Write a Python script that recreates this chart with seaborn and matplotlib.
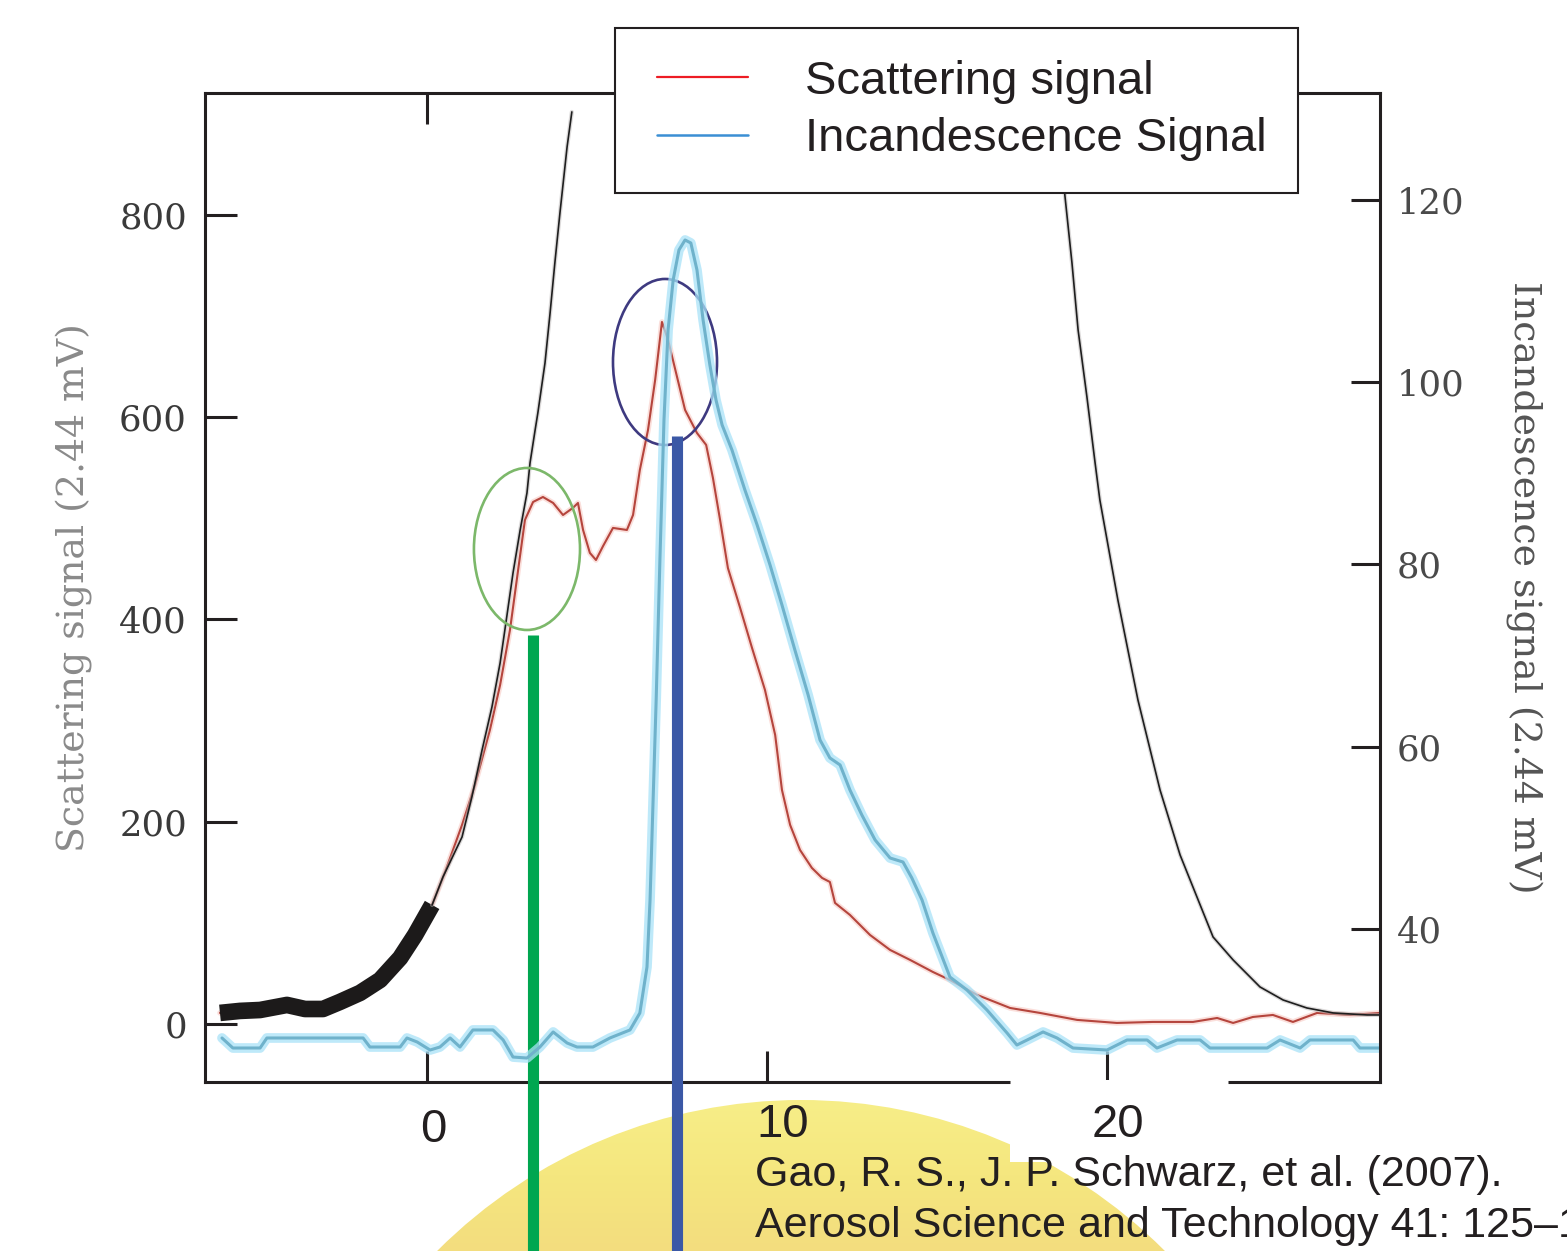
import numpy as np
import matplotlib
matplotlib.use("Agg")
import matplotlib.pyplot as plt
import seaborn as sns
from matplotlib.patches import Ellipse, Circle, Rectangle
from matplotlib.colors import LinearSegmentedColormap
from matplotlib.lines import Line2D

# ---------------------------------------------------------------- data
# time (µs) and scattering signal (left axis, 2.44 mV units)
scat_t = [-6.09, -5.50, -4.91, -4.12, -3.59, -3.06, -2.56, -1.97, -1.38, -0.79,
          -0.35, 0.15, 0.53, 1.03, 1.41, 1.85, 2.15, 2.44, 2.68, 2.88,
          3.12, 3.41, 3.71, 4.00, 4.29, 4.44, 4.59, 4.79, 4.97, 5.18,
          5.47, 5.88, 6.06, 6.26, 6.50, 6.71, 6.91, 7.09, 7.29, 7.59,
          7.94, 8.21, 8.41, 8.62, 8.85, 9.21, 9.56, 9.94, 10.24, 10.44,
          10.68, 10.97, 11.32, 11.62, 11.85, 12.00, 12.44, 13.03, 13.62, 14.21,
          14.88, 15.38, 16.18, 17.15, 18.03, 19.12, 20.29, 21.35, 22.53, 23.24,
          23.71, 24.29, 24.88, 25.47, 26.18, 27.15, 28.03]
scat_v = [10.9, 12.9, 13.8, 18.8, 14.8, 14.8, 21.8, 30.7, 43.5, 65.3,
          88.0, 117.7, 150.3, 196.8, 236.3, 290.7, 335.2, 389.6, 449.0, 498.4,
          516.2, 521.1, 515.2, 503.3, 510.3, 515.2, 488.5, 465.8, 458.8, 472.7,
          490.5, 488.5, 503.3, 547.8, 587.4, 636.8, 694.2, 676.4, 648.7, 607.2,
          584.4, 572.6, 539.9, 498.4, 450.9, 411.4, 371.8, 330.3, 285.8, 231.4,
          196.8, 172.1, 154.3, 144.4, 140.4, 119.7, 107.8, 88.0, 73.2, 63.3,
          51.4, 43.5, 28.7, 15.8, 10.9, 4.0, 1.0, 2.0, 2.0, 5.9,
          1.0, 6.9, 8.9, 2.0, 10.9, 8.9, 10.9]
baseline_end = 0.15   # end of the baseline fit window

# Gaussian fit to the leading edge (left axis)
rise_fit_t = [0.15, 0.47, 1.03, 1.32, 1.62, 1.91, 2.15, 2.29, 2.53, 2.74,
              2.94, 3.03, 3.18, 3.26, 3.47, 3.62, 3.76, 3.91, 4.12, 4.26]
rise_fit_v = [117.7, 145.4, 184.9, 224.5, 271.0, 313.5, 357.0, 389.6, 446.0, 488.5,
              525.1, 554.8, 587.4, 604.2, 653.6, 703.1, 752.5, 802.0, 867.3, 901.9]
# trailing side of the fitted Gaussian (left axis)
fall_fit_t = [18.62, 18.76, 18.97, 19.15, 19.41, 19.65, 19.79, 20.32, 20.91, 21.56,
              22.15, 22.74, 23.12, 23.71, 24.50, 25.18, 25.88, 26.65, 27.65, 28.03]
fall_fit_v = [913.7, 819.8, 752.5, 686.3, 620.0, 554.8, 518.2, 419.3, 320.4, 231.4,
              167.1, 117.7, 86.0, 63.3, 36.6, 23.7, 15.8, 10.9, 8.9, 8.9]

# incandescence signal (right axis, 2.44 mV units)
inc_t = [-6.03, -5.71, -4.91, -4.71, -1.88, -1.68, -0.79, -0.59, -0.29, 0.09,
         0.38, 0.68, 0.97, 1.35, 1.94, 2.24, 2.53, 2.94, 3.32, 3.71,
         4.12, 4.41, 4.88, 5.38, 5.97, 6.26, 6.47, 6.56, 6.65, 6.74,
         6.85, 6.97, 7.09, 7.24, 7.41, 7.59, 7.76, 7.94, 8.12, 8.32,
         8.50, 8.68, 8.97, 9.35, 9.71, 10.09, 10.44, 10.82, 11.21, 11.56,
         11.85, 12.15, 12.44, 12.79, 13.18, 13.62, 14.00, 14.26, 14.56, 14.88,
         15.38, 15.88, 16.47, 17.06, 17.35, 17.65, 18.12, 18.53, 19.00, 20.00,
         20.59, 21.18, 21.47, 22.06, 22.74, 23.03, 24.71, 25.09, 25.68, 25.97,
         27.24, 27.44, 28.03]
inc_v = [28.04, 26.94, 26.94, 28.04, 28.04, 27.05, 27.05, 28.04, 27.60, 26.72,
         27.05, 28.04, 27.05, 28.92, 28.92, 27.82, 25.95, 25.84, 27.05, 28.70,
         27.49, 27.05, 27.05, 28.04, 28.92, 30.78, 35.83, 43.18, 54.16, 65.13,
         80.49, 95.86, 105.73, 111.22, 114.51, 115.61, 115.28, 112.32, 106.83, 101.89,
         98.05, 95.31, 92.56, 88.18, 84.33, 79.94, 75.56, 70.62, 65.68, 60.74,
         58.77, 58.00, 55.25, 52.51, 49.77, 47.79, 47.35, 45.60, 43.18, 39.56,
         34.73, 33.31, 31.11, 28.59, 27.27, 27.82, 28.70, 28.04, 26.94, 26.72,
         27.82, 27.82, 26.94, 27.82, 27.82, 26.94, 26.94, 27.82, 26.94, 27.82,
         27.82, 26.94, 26.94]

# marked instants: scattering onset (green) and incandescence onset (blue)
scat_mark_t, scat_mark_v = 3.12, 384.7
inc_mark_t, inc_mark_v = 7.35, 581.5

left_ticks = [0, 200, 400, 600, 800]
right_ticks = [40, 60, 80, 100, 120]
x_ticks = [0, 10, 20]
x_ticklabels = ["0", "10", "20"]

# ---------------------------------------------------------------- style
sns.set_theme(style="white")
plt.rcParams["font.family"] = ["Liberation Sans", "DejaVu Sans"]
INK = "#231f20"
SERIF = "DejaVu Serif"

W, H = 1567, 1251
fig = plt.figure(figsize=(W / 100, H / 100), dpi=100)
fig.patch.set_facecolor("white")

# backdrop layer in pixel units
bg = fig.add_axes([0, 0, 1, 1], zorder=0)
bg.set_axis_off()
cx, cy, r = 801, 1614, 514
grad = np.linspace(0, 1, 256).reshape(-1, 1)
sun = LinearSegmentedColormap.from_list("sun", ["#f7ee88", "#f5e77f", "#f3dd7e"])
im = bg.imshow(grad, extent=(cx - r, cx + r, H, cy - r), cmap=sun,
               aspect="auto", interpolation="bilinear", zorder=0)
disc = Circle((cx, cy), r, transform=bg.transData, facecolor="none", edgecolor="none")
bg.add_patch(disc)
im.set_clip_path(disc)
# white panel behind the "20" label
bg.add_patch(Rectangle((1010, 1075), 218, 87, facecolor="white",
                       edgecolor="none", zorder=1))
bg.set_xlim(0, W)
bg.set_ylim(H, 0)

# main axes
ax = fig.add_axes([205 / W, 1 - 1082 / H, 1175 / W, 989 / H], zorder=1)
ax.patch.set_alpha(0)
ax2 = ax.twinx()
ax2.set_zorder(2)

ax.set_xlim(-6.53, 28.03)
ax.set_ylim(-57.4, 920.6)
ax2.set_ylim(23.21, 131.74)

# scattering trace with a soft halo
sns.lineplot(x=scat_t, y=scat_v, ax=ax, color="#f6b8b0", lw=4.0, alpha=0.45,
             sort=False, estimator=None)
sns.lineplot(x=scat_t, y=scat_v, ax=ax, color="#b5453d", lw=1.5,
             sort=False, estimator=None)

# baseline fit window (thick black)
st = np.array(scat_t)
sv = np.array(scat_v)
base = st <= baseline_end
sns.lineplot(x=st[base], y=sv[base], ax=ax, color="#1c1a1a", lw=12,
             sort=False, estimator=None, solid_capstyle="butt")

# Gaussian fit sides
for ft, fv in ((rise_fit_t, rise_fit_v), (fall_fit_t, fall_fit_v)):
    sns.lineplot(x=ft, y=fv, ax=ax, color="#b9b5b5", lw=3.0, alpha=0.5,
                 sort=False, estimator=None)
    sns.lineplot(x=ft, y=fv, ax=ax, color="#1e1e1e", lw=1.2,
                 sort=False, estimator=None)

# incandescence trace with glow
sns.lineplot(x=inc_t, y=inc_v, ax=ax2, color="#a9e2f8", lw=7.0, alpha=0.75,
             sort=False, estimator=None)
sns.lineplot(x=inc_t, y=inc_v, ax=ax2, color="#6fb2cb", lw=2.2,
             sort=False, estimator=None)

# highlight ellipses
ax.add_patch(Ellipse((2.94, 469.7), 3.12, 160.2, fill=False,
                     edgecolor="#7cb86a", lw=1.9, zorder=3))
ax.add_patch(Ellipse((7.00, 654.6), 3.06, 164.2, fill=False,
                     edgecolor="#3e3a80", lw=1.9, zorder=3))

# onset markers running down to the bottom of the figure
y0, y1 = ax.get_ylim()
pos = ax.get_position()
units_per_fig = (y1 - y0) / pos.height
fig_bottom_val = y0 - pos.y0 * units_per_fig
ax.vlines(scat_mark_t, fig_bottom_val, scat_mark_v, color="#00a650", lw=8,
          clip_on=False, zorder=4)
ax.vlines(inc_mark_t, fig_bottom_val, inc_mark_v, color="#3b58a6", lw=8,
          clip_on=False, zorder=4)

# axes frame
for s in ("left", "top", "bottom"):
    ax.spines[s].set_color(INK)
    ax.spines[s].set_linewidth(2.2)
ax.spines["right"].set_visible(False)
for s in ("left", "top", "bottom"):
    ax2.spines[s].set_visible(False)
ax2.spines["right"].set_color(INK)
ax2.spines["right"].set_linewidth(2.2)

# break in the lower frame line
ax.plot([17.15, 23.56], [0, 0], transform=ax.get_xaxis_transform(), color="white",
        lw=3.6, solid_capstyle="butt", clip_on=False, zorder=3)

ax.set_xticks(x_ticks)
ax.tick_params(axis="x", direction="in", length=22, width=2.2, color=INK,
               top=True, bottom=True, labelbottom=False, labeltop=False)
for v, lab, dx, dy in zip(x_ticks, x_ticklabels, [6, 16, 11], [-26, -21, -21]):
    ax.annotate(lab, xy=(v, 0), xycoords=ax.get_xaxis_transform(),
                xytext=(dx, dy), textcoords="offset pixels",
                ha="center", va="top", fontsize=34, color=INK,
                annotation_clip=False)

ax.set_yticks(left_ticks)
ax.set_yticklabels([str(t) for t in left_ticks], fontfamily=SERIF, fontsize=25.5,
                   color="#3a3a3a")
ax.tick_params(axis="y", direction="in", length=23, width=2.2, color=INK, pad=13,
               left=True, right=False)
ax.set_ylabel("Scattering signal (2.44 mV)", fontfamily=SERIF, fontsize=27.3,
              color="#8a8a8a", labelpad=19)

ax2.set_yticks(right_ticks)
ax2.set_yticklabels([str(t) for t in right_ticks], fontfamily=SERIF, fontsize=25.5,
                    color="#4a4a4a")
ax2.tick_params(axis="y", direction="in", length=21, width=2.2, color=INK, pad=12,
                right=True, left=False)
ax2.set_ylabel("Incandescence signal (2.44 mV)", rotation=270, va="bottom",
               fontfamily=SERIF, fontsize=27.3, color="#555555", labelpad=29)
ax.set_xlabel("")

# legend
handles = [Line2D([], [], color="#ed1c24", lw=1.6),
           Line2D([], [], color="#3b8fd4", lw=1.8)]
leg = ax2.legend(handles, ["Scattering signal", "Incandescence Signal"],
                 loc="upper left", bbox_to_anchor=(615 / W, 1 - 28 / H),
                 bbox_transform=fig.transFigure, borderaxespad=0,
                 fontsize=34, frameon=True, fancybox=False, framealpha=1,
                 borderpad=0.67, handlelength=2.22, handletextpad=1.13,
                 labelspacing=0.29)
leg.get_frame().set_edgecolor(INK)
leg.get_frame().set_linewidth(1.5)
leg.get_frame().set_facecolor("white")
for t in leg.get_texts():
    t.set_color(INK)
hw = 2.22 * 34
for ln in leg.get_lines():
    yd = np.asarray(ln.get_ydata(), dtype=float)
    ln.set_data([7.5, hw - 2.5], [yd[0], yd[0]])

# reference note
fig.text(755 / W, 1 - 1186 / H, "Gao, R. S., J. P. Schwarz, et al. (2007).",
         fontsize=31, color=INK, va="baseline", ha="left")
fig.text(755 / W, 1 - 1237 / H, "Aerosol Science and Technology 41: 125–135.",
         fontsize=31, color=INK, va="baseline", ha="left")

fig.savefig("out.png", dpi=100)
